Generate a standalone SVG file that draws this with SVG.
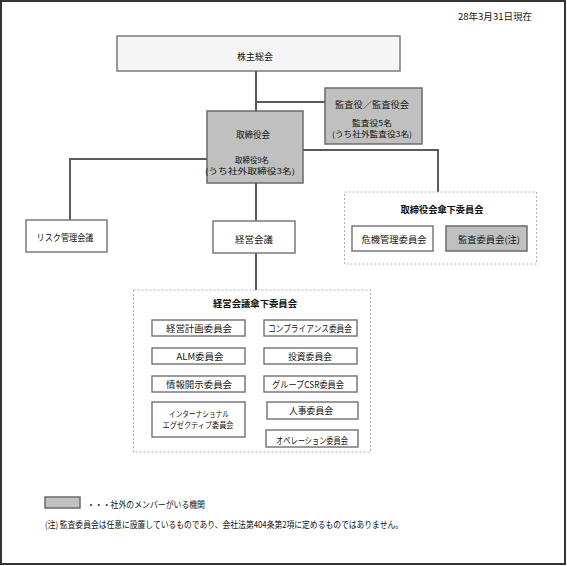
<svg xmlns="http://www.w3.org/2000/svg" width="567" height="566" viewBox="0 0 567 566">
<style>
text{font-family:"Noto Sans CJK JP","Noto Sans",sans-serif;font-size:9px;fill:#111;text-anchor:middle;dominant-baseline:central}
.s{font-size:8px}
.b{fill:#fff;stroke:#7a7a7a;stroke-width:1.5}
.l{fill:#f5f5f5;stroke:#7a7a7a;stroke-width:1.5}
.g{fill:#c0c0c0;stroke:#6a6a6a;stroke-width:1.5}
.d{fill:none;stroke:#b0b0b0;stroke-width:1;stroke-dasharray:2,2}
.c{fill:none;stroke:#5a5a5a;stroke-width:2}
.t{font-weight:bold}
</style>
<rect x="1" y="1" width="564" height="563" fill="#fff" stroke="#333" stroke-width="2"/>
<text x="495" y="16" textLength="74" lengthAdjust="spacingAndGlyphs">28年3月31日現在</text>
<g id="connectors">
<path class="c" d="M256 71V111M256 102H325M207 159H70V220M303 150H438V192M256 183V221M256 253V290"/>
</g>
<g id="shareholders"><rect class="l" x="117" y="36" width="283" height="35"/><text x="255" y="56" textLength="36" lengthAdjust="spacingAndGlyphs">株主総会</text></g>
<g id="auditors"><rect class="g" x="325" y="88" width="97" height="56"/><text x="372" y="104" textLength="74" lengthAdjust="spacingAndGlyphs">監査役／監査役会</text><text class="s" x="372" y="122.5" textLength="40" lengthAdjust="spacingAndGlyphs">監査役5名</text><text class="s" x="372" y="133.5" textLength="80" lengthAdjust="spacingAndGlyphs">(うち社外監査役3名)</text></g>
<g id="board"><rect class="g" x="207" y="111" width="96" height="72"/><text x="253" y="134" textLength="34" lengthAdjust="spacingAndGlyphs">取締役会</text><text class="s" x="252" y="159.5" textLength="34" lengthAdjust="spacingAndGlyphs">取締役9名</text><text class="s" x="250" y="170.5" textLength="90" lengthAdjust="spacingAndGlyphs">(うち社外取締役3名)</text></g>
<g id="risk"><rect class="b" x="26" y="220" width="81" height="32"/><text x="65" y="237" textLength="57" lengthAdjust="spacingAndGlyphs">リスク管理会議</text></g>
<g id="mgmt"><rect class="b" x="213" y="221" width="82" height="32"/><text x="254" y="239" textLength="38" lengthAdjust="spacingAndGlyphs">経営会議</text></g>
<g id="board-committees"><rect class="d" x="344.5" y="192" width="192" height="72"/><text class="t" x="442" y="209" textLength="83" lengthAdjust="spacingAndGlyphs">取締役会傘下委員会</text>
<g id="crisis"><rect class="b" x="352" y="226" width="81" height="25"/><text x="394" y="239" textLength="65" lengthAdjust="spacingAndGlyphs">危機管理委員会</text></g>
<g id="audit-committee"><rect class="g" x="446" y="226" width="81" height="25"/><text x="489" y="239" textLength="62" lengthAdjust="spacingAndGlyphs">監査委員会(注)</text></g></g>
<g id="mgmt-committees"><rect class="d" x="133.5" y="290" width="237" height="162"/><text class="t" x="255" y="303" textLength="84" lengthAdjust="spacingAndGlyphs">経営会議傘下委員会</text>
<g id="plan"><rect class="b" x="152" y="320" width="93" height="16"/><text x="199" y="328" textLength="66" lengthAdjust="spacingAndGlyphs">経営計画委員会</text></g>
<g id="compliance"><rect class="b" x="264" y="320" width="93" height="16"/><text x="310" y="328" textLength="84" lengthAdjust="spacingAndGlyphs">コンプライアンス委員会</text></g>
<g id="alm"><rect class="b" x="152" y="348" width="93" height="16"/><text x="200" y="356" textLength="47" lengthAdjust="spacingAndGlyphs">ALM委員会</text></g>
<g id="invest"><rect class="b" x="264" y="348" width="93" height="16"/><text x="310" y="356" textLength="44" lengthAdjust="spacingAndGlyphs">投資委員会</text></g>
<g id="disclosure"><rect class="b" x="152" y="376" width="93" height="16"/><text x="199" y="384" textLength="66" lengthAdjust="spacingAndGlyphs">情報開示委員会</text></g>
<g id="csr"><rect class="b" x="264" y="376" width="93" height="16"/><text x="308" y="384" textLength="72" lengthAdjust="spacingAndGlyphs">グループCSR委員会</text></g>
<g id="intl"><rect class="b" x="152" y="402" width="93" height="35"/><text class="s" x="199" y="413" textLength="60" lengthAdjust="spacingAndGlyphs">インターナショナル</text><text class="s" x="198" y="424.5" textLength="71" lengthAdjust="spacingAndGlyphs">エグゼクティブ委員会</text></g>
<g id="hr"><rect class="b" x="267" y="402" width="91" height="17"/><text x="311" y="410" textLength="44" lengthAdjust="spacingAndGlyphs">人事委員会</text></g>
<g id="ops"><rect class="b" x="266" y="430" width="92" height="17"/><text x="312" y="440" textLength="72" lengthAdjust="spacingAndGlyphs">オペレーション委員会</text></g></g>
<g id="legend"><rect class="g" x="45" y="497" width="35" height="11"/><text x="146" y="504" textLength="118" lengthAdjust="spacingAndGlyphs">・・・社外のメンバーがいる機関</text></g>
<text x="224" y="524" textLength="358" lengthAdjust="spacingAndGlyphs">(注) 監査委員会は任意に設置しているものであり、会社法第404条第2項に定めるものではありません。</text>
</svg>
